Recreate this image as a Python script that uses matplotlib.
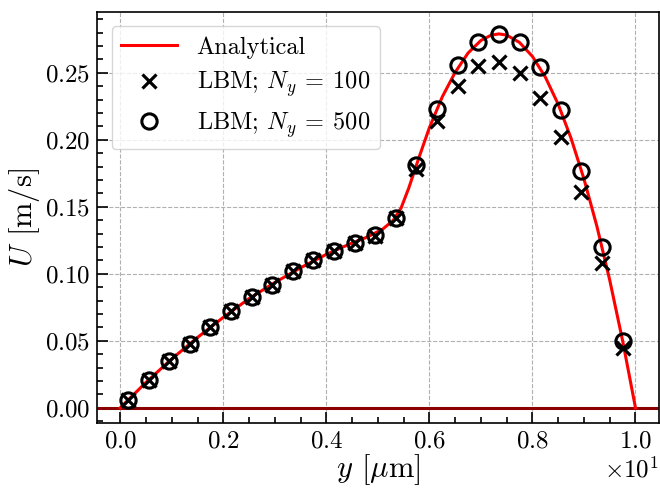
import matplotlib
matplotlib.use("Agg")
import matplotlib.pyplot as plt
from matplotlib.ticker import MultipleLocator

plt.rcParams['font.family'] = 'serif'
plt.rcParams['font.serif'] = ['cmr10']
plt.rcParams['mathtext.fontset'] = 'cm'
plt.rcParams['axes.formatter.use_mathtext'] = True

# analytical velocity profile, y in micrometres
y_an = [0.0, 0.5, 1.0, 1.5, 2.0, 2.5, 3.0, 3.5, 4.0, 4.5, 4.8, 5.1, 5.3, 5.45,
        5.6, 5.8, 6.0, 6.25, 6.5, 6.75, 7.0, 7.2, 7.35, 7.5, 7.75, 8.0, 8.25,
        8.5, 8.75, 9.0, 9.25, 9.5, 9.75, 10.0]
U_an = [0.0, 0.019, 0.0365, 0.0525, 0.0675, 0.0815, 0.0935, 0.1045, 0.1145,
        0.123, 0.1275, 0.1335, 0.140, 0.149, 0.164, 0.187, 0.209, 0.232,
        0.2503, 0.2647, 0.2741, 0.2781, 0.279, 0.2781, 0.2726, 0.2622, 0.2468,
        0.2265, 0.2011, 0.1708, 0.1356, 0.0953, 0.0501, 0.0]

# sampled lattice nodes
y_lbm = [0.15, 0.55, 0.95, 1.35, 1.75, 2.15, 2.55, 2.95, 3.35, 3.75, 4.15, 4.55,
         4.95, 5.35, 5.75, 6.15, 6.55, 6.95, 7.35, 7.75, 8.15, 8.55, 8.95, 9.35, 9.75]
U_100 = [0.006, 0.021, 0.035, 0.048, 0.060, 0.072, 0.083, 0.092, 0.102, 0.110,
         0.117, 0.123, 0.128, 0.142, 0.178, 0.214, 0.240, 0.255, 0.258, 0.250,
         0.231, 0.202, 0.161, 0.108, 0.045]
U_500 = [0.006, 0.021, 0.035, 0.048, 0.060, 0.072, 0.083, 0.092, 0.102, 0.110,
         0.117, 0.123, 0.129, 0.142, 0.181, 0.223, 0.256, 0.273, 0.279, 0.273,
         0.254, 0.222, 0.177, 0.120, 0.050]

fig = plt.figure(figsize=(6.6, 4.91), dpi=100)
ax = fig.add_axes([0.147, 0.1385, 0.851, 0.8375])

ax.plot(y_an, U_an, color='red', lw=2.2, label='Analytical', zorder=3)
ax.plot(y_lbm, U_100, 'x', color='black', ms=10, mew=2.3,
        label=r'LBM; $N_y\:=\:100$', zorder=4)
ax.plot(y_lbm, U_500, 'o', mfc='none', mec='black', ms=11, mew=2.2,
        label=r'LBM; $N_y\:=\:500$', zorder=4)
ax.axhline(0, color='#8b0000', lw=2.2, zorder=2)

ax.set_xlim(-0.45, 10.45)
ax.set_ylim(-0.0113, 0.2955)
ax.ticklabel_format(axis='x', style='sci', scilimits=(0, 0))
ax.xaxis.set_major_locator(MultipleLocator(2))
ax.xaxis.set_minor_locator(MultipleLocator(0.5))
ax.yaxis.set_major_locator(MultipleLocator(0.05))
ax.yaxis.set_minor_locator(MultipleLocator(0.01))
ax.tick_params(which='both', direction='in', top=False, right=False,
               labelsize=18, width=1.2)
ax.tick_params(which='major', length=8, pad=5)
ax.tick_params(which='minor', length=4.5)
ax.xaxis.get_offset_text().set_fontsize(18)
for s in ax.spines.values():
    s.set_linewidth(1.2)

ax.grid(True, which='major', ls='--', color='#b0b0b0', lw=0.8)
ax.set_xlabel(r'$y$ [$\mu$m]', fontsize=22, labelpad=0)
ax.set_ylabel(r'$U$ [m/s]', fontsize=22, labelpad=2)
ax.legend(loc='upper left', fontsize=17.5, handlelength=2.3, borderaxespad=0.6,
          labelspacing=0.45)

fig.savefig('out.png', dpi=100)
